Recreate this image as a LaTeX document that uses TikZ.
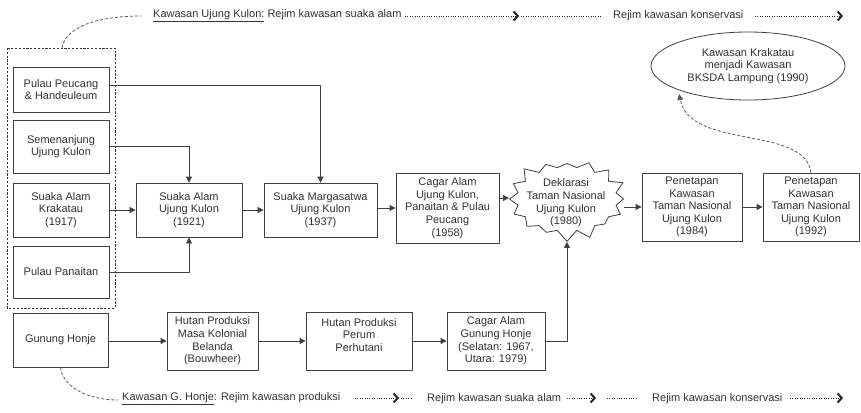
\documentclass[tikz,border=0pt]{standalone}
\usepackage{fontspec}
\setmainfont{Liberation Sans}
\usetikzlibrary{arrows.meta,shapes.geometric,shapes.symbols}
\begin{document}
\begin{tikzpicture}[x=1pt,y=-1pt,
  every node/.style={font=\fontsize{11}{12.6}\selectfont, text=black!80},
  box/.style={draw=black!75, line width=0.8pt, align=center, inner sep=0pt, fill=white},
  conn/.style={draw=black!75, line width=0.8pt, -{Triangle[length=6pt,width=6pt]}},
  grp/.style={draw=black!80, line width=0.8pt, dash pattern=on 2.2pt off 1.6pt},
  curv/.style={draw=black!65, line width=0.8pt, dash pattern=on 3pt off 2pt},
  dotl/.style={draw=black!85, line width=0.9pt, dash pattern=on 1pt off 1.4pt},
  dota/.style={dotl, -{Straight Barb[length=4pt,width=9pt,line width=2pt,sep=0pt]}},
  lbl/.style={anchor=west, inner sep=0pt}
]
\useasboundingbox (0,0) rectangle (861,412);

% group box
\draw[grp] (7,48) rectangle (115,308);

% left column
\node[box, minimum width=96pt, minimum height=45pt] (pp) at (61,89.5) {Pulau Peucang\\\& Handeuleum};
\node[box, minimum width=96pt, minimum height=53pt] (sem) at (61,146.5) {Semenanjung\\Ujung Kulon};
\node[box, minimum width=96pt, minimum height=54pt] (kra) at (61,210) {Suaka Alam\\Krakatau\\(1917)};
\node[box, minimum width=96pt, minimum height=52pt] (pan) at (61,272) {Pulau Panaitan};
\node[box, minimum width=95pt, minimum height=54pt] (gh) at (60.5,340) {Gunung Honje};

% main row
\node[box, minimum width=106pt, minimum height=54pt] (sauk) at (189,210) {Suaka Alam\\Ujung Kulon\\(1921)};
\node[box, minimum width=113pt, minimum height=54pt] (smuk) at (320.5,210) {Suaka Margasatwa\\Ujung Kulon\\(1937)};
\node[box, minimum width=103pt, minimum height=70pt] (cauk) at (447.5,208) {Cagar Alam\\Ujung Kulon,\\Panaitan \& Pulau\\Peucang\\(1958)};
\node[starburst, draw=black!75, line width=0.8pt, fill=white, starburst points=16, starburst point height=11pt, random starburst=3, minimum width=122pt, minimum height=86pt, inner sep=0pt] (star) at (567,199) {};
\node[align=center] at (566,203) {Deklarasi\\Taman Nasional\\Ujung Kulon\\(1980)};
\node[box, minimum width=100pt, minimum height=68pt] (p84) at (692,207) {Penetapan\\Kawasan\\Taman Nasional\\Ujung Kulon\\(1984)};
\node[box, minimum width=96pt, minimum height=68pt] (p92) at (811,207) {Penetapan\\Kawasan\\Taman Nasional\\Ujung Kulon\\(1992)};
\node[ellipse, draw=black!75, line width=0.8pt, minimum width=194pt, minimum height=68pt, inner sep=0pt, align=center] (ell) at (748,66) {Kawasan Krakatau\\menjadi Kawasan\\BKSDA Lampung (1990)};

% bottom row
\node[box, minimum width=91pt, minimum height=58pt] (hpmk) at (212.5,341) {Hutan Produksi\\Masa Kolonial\\Belanda\\(Bouwheer)};
\node[box, minimum width=106pt, minimum height=58pt] (hpp) at (359,341) {Hutan Produksi\\Perum\\Perhutani\\\mbox{}};
\node[box, minimum width=98pt, minimum height=58pt] (cagh) at (496,341) {Cagar Alam\\Gunung Honje\\(Selatan: 1967,\\Utara: 1979)};

% connectors
\draw[conn] (pp.east |- 0,85) -| (smuk.north);
\draw[conn] (sem.east) -| (sauk.north);
\draw[conn] (kra.east) -- (sauk.west);
\draw[conn] (pan.east) -| (sauk.south);
\draw[conn] (sauk.east) -- (smuk.west);
\draw[conn] (smuk.east |- 0,208) -- (cauk.west |- 0,208);
\draw[conn] (cauk.east |- 0,198) -- (star.west |- 0,198);
\draw[conn] (star.east |- 0,207) -- (p84.west);
\draw[conn] (p84.east) -- (p92.west);
\draw[conn] (gh.east |- 0,341) -- (hpmk.west);
\draw[conn] (hpmk.east) -- (hpp.west);
\draw[conn] (hpp.east) -- (cagh.west);
\draw[conn] (cagh.east) -| (star.south);

% dashed curves
\coordinate (tl) at (141,16);
\coordinate (bl) at (118,400);
\draw[curv] (62,48) .. controls (66,24) and (105,16) .. (tl);
\draw[curv] (gh.south) .. controls (62,385) and (85,400) .. (bl);
\draw[curv, -{Triangle[length=6pt,width=6pt]}] (p92.north) .. controls (805,125) and (690,150) .. (ell.south west |- 0,94) ;

% top header
\node[lbl] (t1) at (153,16) {\underline{Kawasan Ujung Kulon:} Rejim kawasan suaka alam};
\node[lbl] (t2) at (613,16) {Rejim kawasan konservasi};
\coordinate (a1s) at (405,16); \coordinate (a1e) at (519,16);
\coordinate (d1s) at (521,16); \coordinate (d1e) at (602,16);
\coordinate (a2s) at (755,16); \coordinate (a2e) at (843,16);
\draw[dota] (a1s) -- (a1e);
\draw[dotl] (d1s) -- (d1e);
\draw[dota] (a2s) -- (a2e);

% bottom header
\node[lbl] (b1) at (122,399) {\underline{Kawasan G. Honje}: Rejim kawasan produksi};
\node[lbl] (b2) at (427,399) {Rejim kawasan suaka alam};
\node[lbl] (b3) at (652,399) {Rejim kawasan konservasi};
\coordinate (ba1s) at (355,398); \coordinate (ba1e) at (399,398);
\coordinate (bd1s) at (401,398); \coordinate (bd1e) at (412,398);
\coordinate (ba2s) at (567,398); \coordinate (ba2e) at (596,398);
\coordinate (bd2s) at (607,398); \coordinate (bd2e) at (638,398);
\coordinate (ba3s) at (790,398); \coordinate (ba3e) at (843,398);
\draw[dota] (ba1s) -- (ba1e);
\draw[dotl] (bd1s) -- (bd1e);
\draw[dota] (ba2s) -- (ba2e);
\draw[dotl] (bd2s) -- (bd2e);
\draw[dota] (ba3s) -- (ba3e);
\end{tikzpicture}
\end{document}
